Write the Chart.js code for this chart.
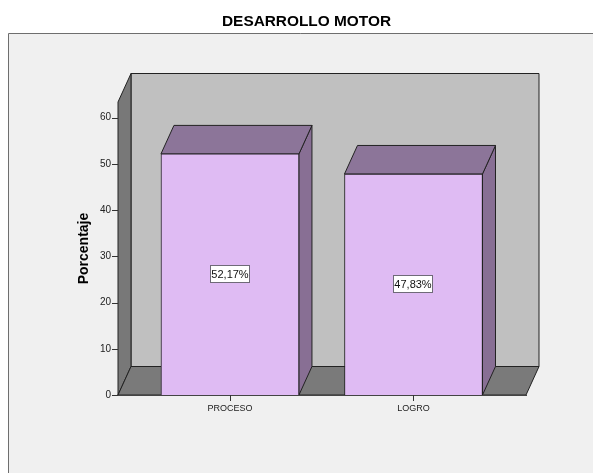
<!DOCTYPE html>
<html>
<head>
<meta charset="utf-8">
<style>
  html, body { margin: 0; padding: 0; background: #fff; }
  #wrap { width: 593px; height: 473px; }
</style>
<script src="https://cdn.jsdelivr.net/npm/chart.js@4"></script>
</head>
<body>
<div id="wrap"><canvas id="chart" width="593" height="473"></canvas></div>
<script>
// data
const titulo = 'DESARROLLO MOTOR';
const categories = ['PROCESO', 'LOGRO'];
const porcentajes = [52.17, 47.83];
const etiquetas = ['52,17%', '47,83%'];
const yTicks = [0, 10, 20, 30, 40, 50, 60];

// 3d depth of the box, in px
const DX = 13, DY = 28.5;

function poly(ctx, pts, fill, stroke) {
    ctx.beginPath();
    pts.forEach((p, i) => i ? ctx.lineTo(p[0], p[1]) : ctx.moveTo(p[0], p[1]));
    ctx.closePath();
    ctx.fillStyle = fill;
    ctx.fill();
    if (stroke) {
        ctx.lineWidth = 1;
        ctx.strokeStyle = stroke;
        ctx.stroke();
    }
}

// background, panel frame, title, walls and floor
const fondo = {
    id: 'fondo',
    beforeDraw(chart) {
        const { ctx, chartArea: a, width, height } = chart;
        ctx.save();
        ctx.fillStyle = '#ffffff';
        ctx.fillRect(0, 0, width, height);
        ctx.fillStyle = '#f0f0f0';
        ctx.fillRect(9, 33, width, height);
        ctx.strokeStyle = '#6e6e6e';
        ctx.lineWidth = 1;
        ctx.beginPath();
        ctx.moveTo(8.5, height);
        ctx.lineTo(8.5, 33.5);
        ctx.lineTo(width, 33.5);
        ctx.stroke();
        // the title is centred on the original panel, which runs past the window
        ctx.fillStyle = '#000';
        ctx.font = 'bold 15.4px "Liberation Sans"';
        ctx.textAlign = 'left';
        ctx.textBaseline = 'middle';
        ctx.fillText(titulo, 222, 21.5);
        const l = a.left, r = a.right, t = a.top, b = a.bottom;
        poly(ctx, [[l + DX, t - DY], [r + DX, t - DY], [r + DX, b - DY], [l + DX, b - DY]], '#c0c0c0', '#222');
        poly(ctx, [[l, t], [l + DX, t - DY], [l + DX, b - DY], [l, b]], '#787878', '#222');
        poly(ctx, [[l, b], [l + DX, b - DY], [r + DX, b - DY], [r, b]], '#7a7a7a', '#222');
        ctx.restore();
    }
};

// top and side faces of the bars, then the value boxes
const caras = {
    id: 'caras',
    beforeDatasetsDraw(chart) {
        const ctx = chart.ctx;
        ctx.save();
        chart.getDatasetMeta(0).data.forEach(bar => {
            const x0 = bar.x - bar.width / 2, x1 = bar.x + bar.width / 2, y = bar.y, b = bar.base;
            poly(ctx, [[x1, y], [x1 + DX, y - DY], [x1 + DX, b - DY], [x1, b]], '#886f94', '#222');
            poly(ctx, [[x0, y], [x0 + DX, y - DY], [x1 + DX, y - DY], [x1, y]], '#8c7599', '#222');
        });
        ctx.restore();
    },
    afterDatasetsDraw(chart) {
        const ctx = chart.ctx;
        ctx.save();
        ctx.font = '11px "Liberation Sans"';
        ctx.textAlign = 'center';
        ctx.textBaseline = 'middle';
        chart.getDatasetMeta(0).data.forEach((bar, i) => {
            const cy = Math.round((bar.y + bar.base) / 2);
            const cx = Math.round(bar.x);
            ctx.fillStyle = '#ffffff';
            ctx.fillRect(cx - 20, cy - 9, 40, 18);
            ctx.strokeStyle = '#6f6a78';
            ctx.lineWidth = 1;
            ctx.strokeRect(cx - 19.5, cy - 8.5, 39, 17);
            ctx.fillStyle = '#111';
            ctx.fillText(etiquetas[i], cx, cy + 0.5);
        });
        ctx.restore();
    }
};

new Chart(document.getElementById('chart'), {
    type: 'bar',
    data: {
        datasets: [{
            data: porcentajes.map((v, i) => ({ x: i, y: v })),
            backgroundColor: '#dfbbf3',
            borderColor: '#222',
            borderWidth: 1,
            barThickness: 138
        }]
    },
    options: {
        responsive: false,
        animation: false,
        layout: { padding: { left: 76, right: 67, top: 102, bottom: 0 } },
        plugins: {
            legend: { display: false },
            tooltip: { enabled: false }
        },
        scales: {
            x: {
                type: 'linear',
                offset: false,
                min: -0.61,
                max: 1.613,
                afterBuildTicks(scale) {
                    scale.ticks = categories.map((c, i) => ({ value: i }));
                },
                afterFit(scale) { scale.height = 78; },
                grid: { display: false, drawTicks: false },
                border: { display: true, color: '#444' },
                ticks: {
                    autoSkip: false,
                    maxRotation: 0,
                    padding: 8,
                    color: '#222',
                    font: { family: '"Liberation Sans"', size: 9 },
                    callback: v => categories[v]
                }
            },
            y: {
                min: 0,
                max: 63.4,
                afterBuildTicks(scale) {
                    scale.ticks = yTicks.map(v => ({ value: v }));
                },
                afterFit(scale) { scale.width = 42; },
                grid: { display: false, drawTicks: false },
                border: { display: false },
                ticks: {
                    color: '#222',
                    padding: 7,
                    font: { family: '"Liberation Sans"', size: 10 }
                },
                title: {
                    display: true,
                    text: 'Porcentaje',
                    color: '#000',
                    font: { family: '"Liberation Sans"', size: 14, weight: 'bold' },
                    padding: 0
                }
            }
        }
    },
    plugins: [fondo, caras, {
        // tick marks: both axes, drawn from the scales
        id: 'marcas',
        afterDraw(chart) {
            const { ctx, scales, chartArea: a } = chart;
            ctx.save();
            ctx.strokeStyle = '#333';
            ctx.lineWidth = 1;
            ctx.beginPath();
            yTicks.forEach(v => {
                const y = Math.round(scales.y.getPixelForValue(v)) + 0.5;
                ctx.moveTo(a.left - 6, y);
                ctx.lineTo(a.left, y);
            });
            categories.forEach((c, i) => {
                const x = Math.round(scales.x.getPixelForValue(i)) + 0.5;
                ctx.moveTo(x, a.bottom);
                ctx.lineTo(x, a.bottom + 6);
            });
            ctx.stroke();
            ctx.restore();
        }
    }]
});
</script>
</body>
</html>
